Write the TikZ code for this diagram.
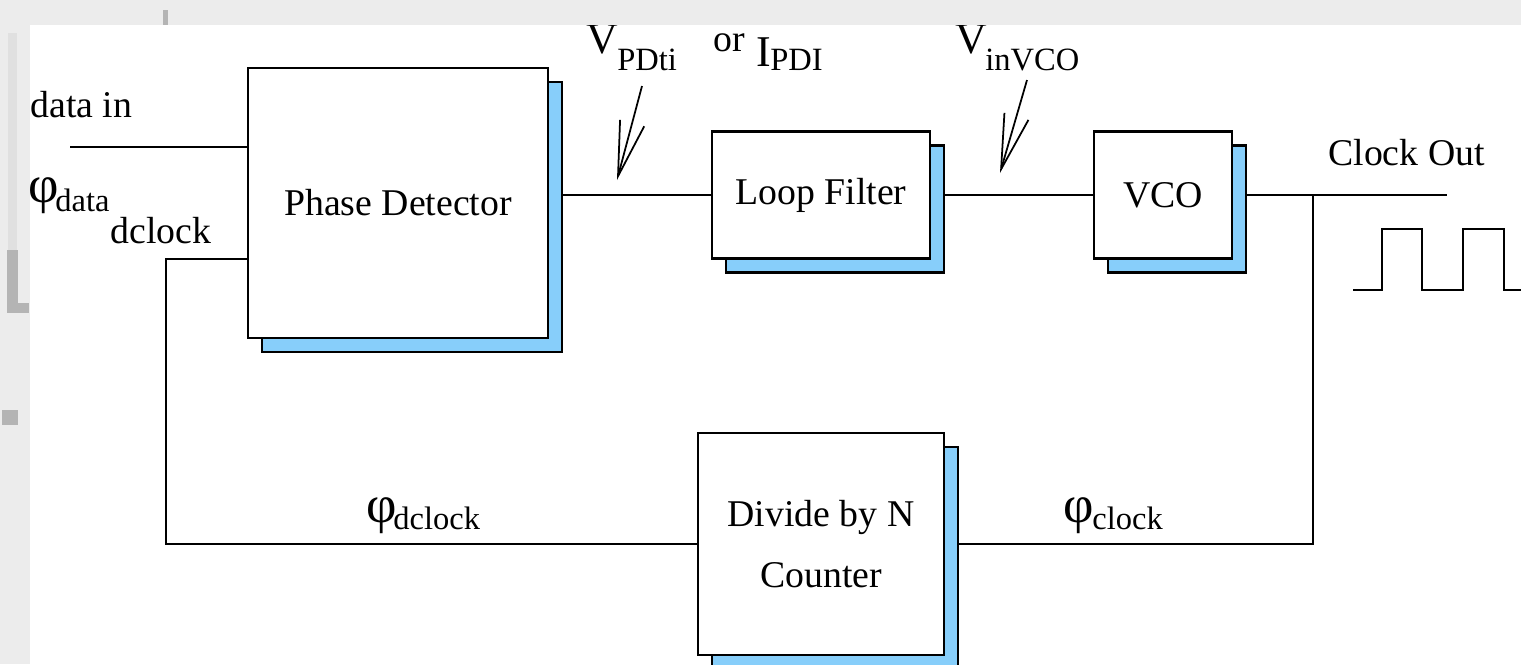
\documentclass[tikz,border=0pt]{standalone}
\usepackage{fontspec}
\setmainfont{Liberation Serif}
\usetikzlibrary{arrows.meta}
\pgfdeclarelayer{bg}
\pgfdeclarelayer{conn}
\pgfdeclarelayer{topband}
\pgfsetlayers{bg,conn,main,topband}
\definecolor{shadowblue}{HTML}{87CEFA}
\definecolor{pagegray}{HTML}{ECECEC}
\definecolor{ghost}{HTML}{B4B4B4}
\definecolor{ghostlight}{HTML}{E0E0E0}
\tikzset{
  wire/.style={line width=1.3pt},
  blockstyle/.style={draw, fill=white, line width=1.3pt, inner sep=0pt, align=center, font=\fontsize{21.5}{35}\selectfont},
  shadowstyle/.style={draw, fill=shadowblue, line width=1.3pt},
  lbl/.style={inner sep=0pt, font=\fontsize{21.5}{26}\selectfont},
  biglbl/.style={inner sep=0pt, font=\fontsize{25}{30}\selectfont},
  phil/.style={inner sep=0pt, font=\fontsize{30}{34}\selectfont},
  sublbl/.style={inner sep=0pt, font=\fontsize{18.5}{22}\selectfont},
  pointer/.style={line width=1pt, -{Straight Barb[length=1.1cm, width=0.5cm]}},
}
% name, cx, cy, w, h, text
\newcommand\blockbox[6]{%
  \draw[shadowstyle] (#2-#4/2+14, #3-#5/2+14) rectangle (#2+#4/2+14, #3+#5/2+14);
  \node[blockstyle, minimum width=#4*0.02cm, minimum height=#5*0.02cm] (#1) at (#2,#3) {#6};
}
\begin{document}
\begin{tikzpicture}[x=0.02cm, y=-0.02cm]
\useasboundingbox (0,0) rectangle (1521,664);
\begin{pgfonlayer}{bg}
  \fill[pagegray] (0,0) rectangle (1521,664);
  \fill[white] (30,25) rectangle (1521,664);
  \fill[ghostlight] (8,33) rectangle (17,250);
  \fill[ghost] (7,250) rectangle (18,313);
  \fill[ghost] (7,303) rectangle (29,313);
  \fill[ghost] (2,410) rectangle (18,425);
\end{pgfonlayer}

% blocks
\blockbox{pd}{398}{203}{300}{270}{Phase Detector}
\blockbox{lf}{821}{195}{218}{127}{Loop Filter}
\blockbox{vco}{1163}{195}{138}{127}{VCO}
\blockbox{div}{821}{544}{246}{222}{Divide by N\\Counter}

% coordinates
\coordinate (din) at (70,147);
\coordinate (pdfb) at (248,259);
\coordinate (fbc) at (166,544);
\coordinate (tap) at (1313,195);
\coordinate (cout) at (1447,195);

% connectors
\begin{pgfonlayer}{conn}
  \draw[wire] (din) -- (din -| pd.west);
  \draw[wire] (pd.east |- lf.west) -- (lf.west);
  \draw[wire] (lf) -- (vco);
  \draw[wire] (vco.east) -- (cout);
  \draw[wire] (div.east) -| (tap);
  \draw[wire] (pdfb) -| (fbc) -- (div.west);
\end{pgfonlayer}

% clock waveform
\draw[wire] (1353,290) -- (1382,290) -- (1382,229) -- (1422,229) -- (1422,290)
  -- (1463,290) -- (1463,229) -- (1504,229) -- (1504,290) -- (1521,290);

% labels
\node[lbl, anchor=base west] (datain) at (30,117) {data in};
\node[phil, anchor=base west] (phid) at (28,202) {φ};
\node[sublbl, anchor=base west] (phidsub) at (55,211) {data};
\node[lbl, anchor=base west] (dclk) at (110,243) {dclock};
\node[phil, anchor=base west] (phidc) at (366,522) {φ};
\node[sublbl, anchor=base west] (phidcsub) at (393,529) {dclock};
\node[phil, anchor=base west] (phic) at (1063,522) {φ};
\node[sublbl, anchor=base west] (phicsub) at (1092,529) {clock};
\node[lbl, anchor=base west] (clkout) at (1328,165) {Clock Out};

\node[biglbl, anchor=base west] (vpd) at (586,53) {V};
\node[sublbl, anchor=base west] (vpdsub) at (617,70) {PDti};
\node[lbl, anchor=base west] (orl) at (713,51) {or};
\node[biglbl, anchor=base west] (ipd) at (756,66) {I};
\node[sublbl, anchor=base west] (ipdsub) at (770,70) {PDI};
\node[biglbl, anchor=base west] (vvco) at (955,53) {V};
\node[sublbl, anchor=base west] (vvcosub) at (985,70) {inVCO};

% pointer arrows
\coordinate (p1s) at (642,86);
\coordinate (p1t) at (617,180);
\coordinate (p2s) at (1027,80);
\coordinate (p2t) at (1000,173);
\draw[pointer] (p1s) -- (p1t);
\draw[pointer] (p2s) -- (p2t);

\begin{pgfonlayer}{topband}
  \fill[pagegray] (0,0) rectangle (1521,25);
  \fill[ghost] (163,10) rectangle (168,25);
\end{pgfonlayer}
\end{tikzpicture}
\end{document}
